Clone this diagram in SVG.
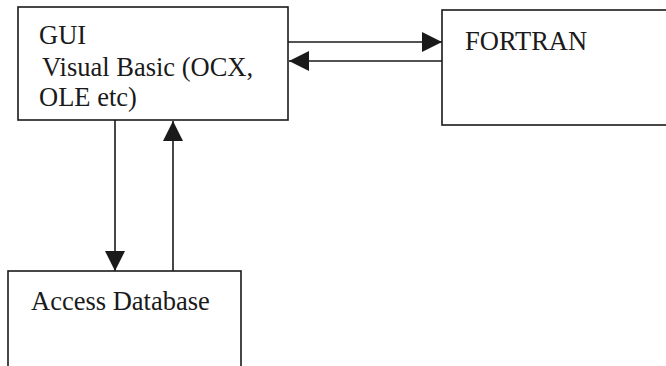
<svg xmlns="http://www.w3.org/2000/svg" width="666" height="366" viewBox="0 0 666 366">
<style>
.box{fill:#fff;stroke:#1a1a1a;stroke-width:1.6}
.lbl{font-family:"Liberation Serif",serif;font-size:26.5px;fill:#1a1a1a}
.con{stroke:#1a1a1a;stroke-width:1.6;fill:none;marker-end:url(#ah)}
</style>
<defs>
<marker id="ah" viewBox="0 0 20 20" refX="20" refY="10" markerWidth="20" markerHeight="20" markerUnits="userSpaceOnUse" orient="auto">
<path d="M0,0 L20,10 L0,20 Z" fill="#1a1a1a"/>
</marker>
</defs>
<rect width="666" height="366" fill="#fff"/>
<g id="gui">
<rect class="box" x="18" y="7" width="270" height="113"/>
<text class="lbl" x="39" y="44">GUI</text>
<text class="lbl" x="42" y="76">Visual Basic (OCX,</text>
<text class="lbl" x="39" y="106">OLE etc)</text>
</g>
<g id="fortran">
<rect class="box" x="442" y="10" width="230" height="115"/>
<text class="lbl" x="465" y="50">FORTRAN</text>
</g>
<g id="access">
<rect class="box" x="8" y="271" width="233" height="110"/>
<text class="lbl" x="31" y="310">Access Database</text>
</g>
<g id="connectors">
<line class="con" x1="288" y1="42" x2="442" y2="42"/>
<line class="con" x1="442" y1="61" x2="289" y2="61"/>
<line class="con" x1="115" y1="120" x2="115" y2="271"/>
<line class="con" x1="173" y1="271" x2="173" y2="121"/>
</g>
</svg>
